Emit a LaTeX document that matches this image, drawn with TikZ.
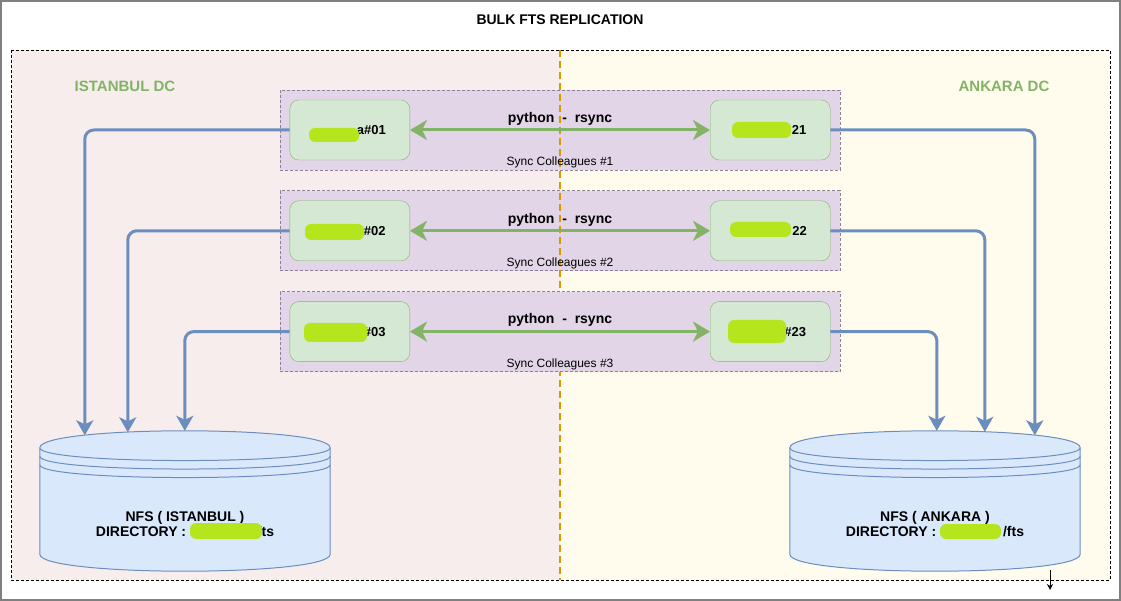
\documentclass[tikz,border=0pt]{standalone}
\usepackage{fontspec}
\setmainfont{Liberation Sans}
\usetikzlibrary{positioning, calc, arrows.meta}

\definecolor{istfill}{HTML}{F7EDED}
\definecolor{ankfill}{HTML}{FFFCEE}
\definecolor{grpfill}{HTML}{E1D5E7}
\definecolor{grpline}{HTML}{8F7F99}
\definecolor{srvfill}{HTML}{D5E8D4}
\definecolor{srvline}{HTML}{82B366}
\definecolor{nfsfill}{HTML}{DAE8FC}
\definecolor{nfsline}{HTML}{6C8EBF}
\definecolor{splitline}{HTML}{D79B00}
\definecolor{mask}{HTML}{B5E61D}

\tikzset{
  grp/.style     = {draw=grpline, fill=grpfill, line width=0.8pt,
                    dash pattern=on 3pt off 2pt,
                    minimum width=560pt, minimum height=80pt, inner sep=0pt},
  srv/.style     = {draw=srvline, fill=srvfill, rounded corners=9pt,
                    minimum width=120pt, minimum height=60pt, inner sep=0pt,
                    font=\fontsize{13}{15}\selectfont\bfseries},
  link/.style    = {{Stealth[length=17pt,width=20pt,inset=5pt]}-{Stealth[length=17pt,width=20pt,inset=5pt]},
                    line width=3pt, draw=srvline},
  feed/.style    = {-{Stealth[length=15pt,width=17pt,inset=4pt]},
                    line width=3pt, draw=nfsline, rounded corners=9pt},
  drum/.style    = {draw=nfsline, fill=nfsfill, line width=1pt},
  nfstxt/.style  = {align=center, font=\fontsize{14}{15}\selectfont\bfseries},
  dclbl/.style   = {text=srvline, font=\fontsize{15}{17}\selectfont\bfseries},
  synclbl/.style = {inner sep=1pt, font=\fontsize{12}{14}\selectfont},
  rsynclbl/.style= {font=\fontsize{14}{16}\selectfont\bfseries},
}

% datastore drum drawn inside a node's box
\newcommand{\nfsdrum}[1]{%
  \draw[drum] ($(#1.north west)+(0,17)$) .. controls +(0,-22.67) and +(0,-22.67) .. ($(#1.north east)+(0,17)$)
    -- ($(#1.south east)+(0,-17)$) .. controls +(0,22.67) and +(0,22.67) .. ($(#1.south west)+(0,-17)$) -- cycle;
  \foreach \k in {0,8.5,17}
    \draw[drum, fill=none] ($(#1.north west)+(0,17+\k)$) .. controls +(0,17) and +(0,17) .. ($(#1.north east)+(0,17+\k)$);
}

\begin{document}
\begin{tikzpicture}[x=1pt, y=-1pt]

    \useasboundingbox (0,0) rectangle (1121,601);
    \fill[white] (0,0) rectangle (1121,601);
    \draw[gray, line width=2pt] (1,1) rectangle (1120,600);

    \node[rsynclbl] (title) at (560,20) {BULK FTS REPLICATION};

    % the two data centres
    \fill[istfill] (11,50) rectangle (560,580);
    \fill[ankfill] (560,50) rectangle (1110,580);
    \draw[line width=0.8pt, dash pattern=on 3pt off 2pt] (11,50) rectangle (1110,580);

    \node[dclbl] (istLbl) at (125,86) {ISTANBUL DC};
    \node[dclbl] (ankLbl) at (1004,86) {ANKARA DC};

    % sync groups
    \node[grp] (grp1) at (560,130) {};
    \node[grp, below=20pt of grp1] (grp2) {};

    \coordinate (splitTop) at (560,50);
    \coordinate (splitBot) at (560,580);
    \draw[splitline, line width=1.2pt, dash pattern=on 7pt off 4pt] (splitTop) -- (splitBot);

    \node[grp, below=20pt of grp2] (grp3) {};

    \node[srv, right=10pt of grp1.west] (ist1) {\hspace*{43pt}a\#01};
    \node[srv, left=10pt of grp1.east]  (ank1) {\hspace*{58pt}21};
    \node[srv, right=10pt of grp2.west] (ist2) {\hspace*{50pt}\#02};
    \node[srv, left=10pt of grp2.east]  (ank2) {\hspace*{59pt}22};
    \node[srv, right=10pt of grp3.west] (ist3) {\hspace*{50pt}\#03};
    \node[srv, left=10pt of grp3.east]  (ank3) {\hspace*{50pt}\#23};

    \node[synclbl, above=1pt of grp1.south] (sync1) {Sync Colleagues \#1};
    \node[synclbl, above=1pt of grp2.south] (sync2) {Sync Colleagues \#2};
    \node[synclbl, above=1pt of grp3.south] (sync3) {Sync Colleagues \#3};

    \draw[link] (ist1.east) -- (ank1.west)
    node[midway, above, rsynclbl] {python\ \ -\ \ rsync};
    \draw[link] (ist2.east) -- (ank2.west)
    node[midway, above, rsynclbl] {python\ \ -\ \ rsync};
    \draw[link] (ist3.east) -- (ank3.west)
    node[midway, above, rsynclbl] {python\ \ -\ \ rsync};

    % shared storage
    \node[minimum width=290pt, minimum height=140pt, inner sep=0pt] (nfsIst) at (185,501) {};
    \node[minimum width=290pt, minimum height=140pt, inner sep=0pt] (nfsAnk) at (935,501) {};
    \nfsdrum{nfsIst}
    \nfsdrum{nfsAnk}
    \node[nfstxt] (nfsIstTxt) at ($(nfsIst.center)+(0,23.5)$)
    {NFS ( ISTANBUL )\\DIRECTORY : \hspace*{63pt}/fts};
    \node[nfstxt] (nfsAnkTxt) at ($(nfsAnk.center)+(0,23.5)$)
    {NFS ( ANKARA )\\DIRECTORY : \hspace*{63pt}/fts};

    \draw[feed] (ist1.west) -| ($(nfsIst.north west)+(45,4.5)$);
    \draw[feed] (ist2.west) -| ($(nfsIst.north west)+(88,1.5)$);
    \draw[feed] (ist3.west) -| ($(nfsIst.north west)+(145,0)$);
    \draw[feed] (ank1.east) -| ($(nfsAnk.north west)+(245,4.5)$);
    \draw[feed] (ank2.east) -| ($(nfsAnk.north west)+(195,1)$);
    \draw[feed] (ank3.east) -| ($(nfsAnk.north west)+(147,0)$);

    % masked names
    \fill[mask, rounded corners=6pt] (309,128) rectangle (359,142);
    \fill[mask, rounded corners=6pt] (732,122) rectangle (791,138);
    \fill[mask, rounded corners=6pt] (305,224) rectangle (364,240);
    \fill[mask, rounded corners=6pt] (730,222) rectangle (791,237);
    \fill[mask, rounded corners=6pt] (304,323) rectangle (367,342);
    \fill[mask, rounded corners=6pt] (728,320) rectangle (786,343);
    \fill[mask, rounded corners=6pt] (190,523) rectangle (262,539);
    \fill[mask, rounded corners=6pt] (940,524) rectangle (1001,539);

    \coordinate (strayA) at (1050,570);
    \coordinate (strayB) at (1050,590);
    \draw[-{Stealth[length=6pt,width=6pt]}, line width=1pt] (strayA) -- (strayB);

\end{tikzpicture}
\end{document}
